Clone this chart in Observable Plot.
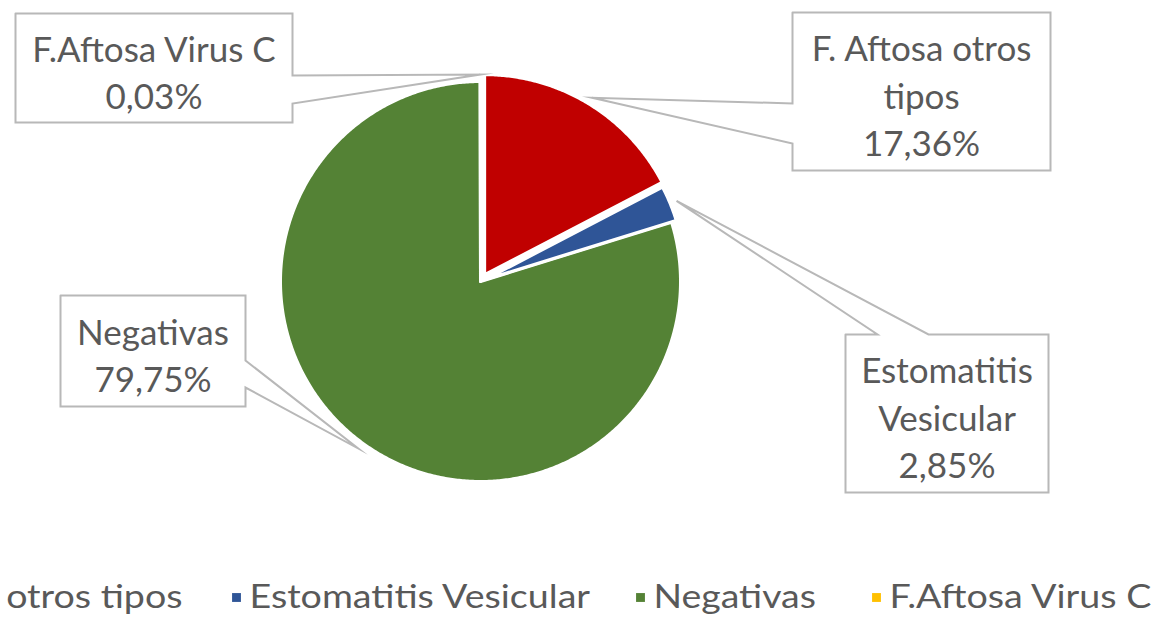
<!DOCTYPE html>
<html><head><meta charset="utf-8">
<script src="https://cdn.jsdelivr.net/npm/d3@7"></script>
<script src="https://cdn.jsdelivr.net/npm/@observablehq/plot@0.6"></script>
<style>html,body{margin:0;padding:0;background:#fff;overflow:hidden} svg{display:block}</style>
</head><body><div id="chart"></div>
<script>
// ---- data ----
const categories = ["F. Aftosa otros tipos", "Estomatitis Vesicular", "Negativas", "F.Aftosa Virus C"];
const values = [17.36, 2.85, 79.75, 0.03];
const labelNames = ["F. Aftosa otros\ntipos", "Estomatitis\nVesicular", "Negativas", "F.Aftosa Virus C"];
const colors = ["#C00000", "#2F5597", "#548235", "#FFC000"];

// ---- layout ----
const W = 1155, H = 624;
const FONT = "Lato, 'Open Sans', sans-serif";
const TEXT = "#595959";
const cx = 480, cy = 281, R = 200;
const explode = [8, 5, 0, 0];
const tipGap = 7;
// callout boxes: rect + wedge base on one side
const boxes = [
  {x0: 792, y0: 12, x1: 1050, y1: 170, side: "left", b0: 103, b1: 143},
  {x0: 845, y0: 334, x1: 1048, y1: 492, side: "top", b0: 877, b1: 928},
  {x0: 60, y0: 295, x1: 245, y1: 406, side: "right", b0: 360, b1: 387},
  {x0: 15, y0: 13, x1: 292, y1: 122, side: "right", b0: 75, b1: 103}
];
const labelFont = 35;
const legendY = 597, legendFont = 32, legendStretch = 1.17, sqR = 5, sqGap = 13;
const legendSquareX = [null, 236, 640, 876];  // first item is clipped at the left edge
const legendFirstEnd = 182;

const fmt = v => v.toFixed(2).replace(".", ",") + "%";

const arcs = d3.pie().sort(null).value(d => d)(values);
const slices = arcs.map((p, i) => {
  const mid = (p.startAngle + p.endAngle) / 2;
  const ox = cx + explode[i] * Math.sin(mid), oy = cy - explode[i] * Math.cos(mid);
  const pts = [{x: ox, y: oy}];
  const n = Math.max(2, Math.ceil((p.endAngle - p.startAngle) / (Math.PI / 360)));
  for (let k = 0; k <= n; k++) {
    const a = p.startAngle + (p.endAngle - p.startAngle) * k / n;
    pts.push({x: ox + R * Math.sin(a), y: oy - R * Math.cos(a)});
  }
  pts.push({x: ox, y: oy});
  const tip = {x: ox + (R + tipGap) * Math.sin(mid), y: oy - (R + tipGap) * Math.cos(mid)};
  return {pts, tip};
});

function callout(b, tip) {
  const {x0, y0, x1, y1, side, b0, b1} = b;
  const p = [{x: x0, y: y0}];
  if (side === "top") p.push({x: b0, y: y0}, tip, {x: b1, y: y0});
  p.push({x: x1, y: y0});
  if (side === "right") p.push({x: x1, y: b0}, tip, {x: x1, y: b1});
  p.push({x: x1, y: y1});
  if (side === "bottom") p.push({x: b1, y: y1}, tip, {x: b0, y: y1});
  p.push({x: x0, y: y1});
  if (side === "left") p.push({x: x0, y: b1}, tip, {x: x0, y: b0});
  p.push({x: x0, y: y0});
  return p;
}

const labels = categories.map((c, i) => ({
  x: (boxes[i].x0 + boxes[i].x1) / 2,
  y: (boxes[i].y0 + boxes[i].y1) / 2 + 2,
  text: labelNames[i] + "\n" + fmt(values[i])
}));

// legend layout
const ctx = document.createElement("canvas").getContext("2d");
ctx.font = `${legendFont}px Lato`;
const legend = categories.map((name, i) => {
  const w = ctx.measureText(name).width * legendStretch;
  let sx, tx;
  if (legendSquareX[i] == null) { tx = legendFirstEnd - w; sx = tx - sqGap; }
  else { sx = legendSquareX[i]; tx = sx + sqGap; }
  return {name, color: colors[i], sx, tx, w};
});

const marks = [];
[2, 1, 0, 3].forEach(i => {
  marks.push(Plot.line(slices[i].pts, {x: "x", y: "y", fill: colors[i], stroke: "white", strokeWidth: 3, strokeLinejoin: "miter", strokeMiterlimit: 4, curve: "linear"}));
});
boxes.forEach((b, i) => {
  marks.push(Plot.line(callout(b, slices[i].tip), {x: "x", y: "y", fill: "white", stroke: "#b8b8b8", strokeWidth: 2, strokeLinejoin: "miter", strokeMiterlimit: 20, curve: "linear"}));
});
marks.push(Plot.text(labels, {x: "x", y: "y", text: "text", fontSize: labelFont, lineHeight: 1.35, fill: TEXT}));
marks.push(Plot.dot(legend, {x: "sx", y: legendY, symbol: "square", r: sqR, fill: "color", stroke: null}));
marks.push(Plot.text(legend, {x: "tx", y: legendY, text: "name", textAnchor: "start", fontSize: legendFont, fill: TEXT}));

const chart = Plot.plot({
  width: W, height: H, margin: 0,
  x: {domain: [0, W], range: [0, W], axis: null},
  y: {domain: [0, H], range: [0, H], axis: null},
  color: {type: "identity"},
  style: {fontFamily: FONT, background: "white", overflow: "hidden"},
  marks
});
const textGroups = chart.querySelectorAll('g[aria-label="text"]');
textGroups[textGroups.length - 1].querySelectorAll("text").forEach((t, i) => {
  t.setAttribute("textLength", legend[i].w);
  t.setAttribute("lengthAdjust", "spacingAndGlyphs");
});
document.getElementById("chart").appendChild(chart);
</script>
</body></html>
